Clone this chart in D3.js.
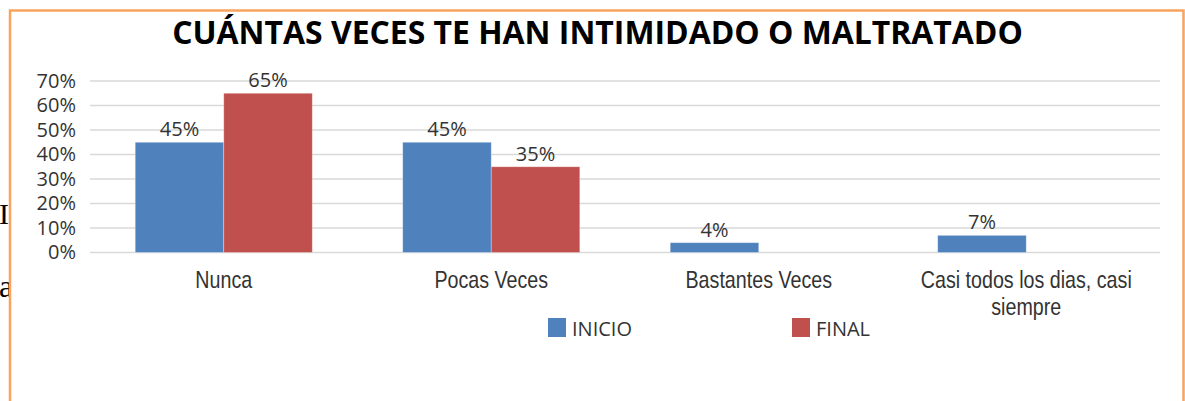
<!DOCTYPE html>
<html>
<head>
<meta charset="utf-8">
<script src="https://cdn.jsdelivr.net/npm/d3@7/dist/d3.min.js"></script>
<style>
  body { margin: 0; background: #fff; }
  svg { display: block; }
</style>
</head>
<body>
<div id="chart"></div>
<script>
// datos
var categories = ["Nunca", "Pocas Veces", "Bastantes Veces", "Casi todos los dias, casi siempre"];
var seriesNames = ["INICIO", "FINAL"];
var inicio = [0.45, 0.45, 0.04, 0.07];
var final = [0.65, 0.35, null, null];
var yTicks = [0, 0.1, 0.2, 0.3, 0.4, 0.5, 0.6, 0.7];
var colors = ["#4F81BD", "#C0504D"];
var title = "CUÁNTAS VECES TE HAN INTIMIDADO O MALTRATADO";

var width = 1185, height = 401;
var plot = { left: 90, right: 1160, top: 81, bottom: 252.5 };
var narrow = 0.82; // las etiquetas del eje x son estrechas

var svg = d3.select("#chart")
    .append("svg")
    .attr("width", width)
    .attr("height", height);

// restos del documento de fondo
svg.append("text")
    .attr("x", -1).attr("y", 224)
    .attr("font-family", "Liberation Serif")
    .attr("font-size", 30)
    .attr("fill", "#000")
    .text("I");
svg.append("text")
    .attr("x", -1).attr("y", 297)
    .attr("font-family", "Liberation Serif")
    .attr("font-size", 32)
    .attr("fill", "#000")
    .text("a");

// marco naranja
svg.append("rect")
    .attr("x", 10).attr("y", 10.5)
    .attr("width", 1173.5).attr("height", 430)
    .attr("fill", "#fff")
    .attr("stroke", "#F9A45E")
    .attr("stroke-width", 2.5);

var t = svg.append("text")
    .attr("x", 597.5).attr("y", 44)
    .attr("text-anchor", "middle")
    .attr("font-family", "Open Sans")
    .attr("font-weight", "bold")
    .attr("font-size", 29)
    .attr("fill", "#000")
    .text(title);
var tl = t.node().getComputedTextLength();
t.attr("font-size", 29 * 851 / tl);

var x0 = d3.scaleBand()
    .domain(categories)
    .range([plot.left, plot.right])
    .paddingInner(0.338)
    .paddingOuter(0.169);

var x1 = d3.scaleBand()
    .domain(seriesNames)
    .range([0, x0.bandwidth()]);

var y = d3.scaleLinear()
    .domain([0, 0.7])
    .range([plot.bottom, plot.top]);

var fmt = d3.format(".0%");

// lineas de cuadricula
svg.append("g")
    .selectAll("line")
    .data(yTicks)
    .enter()
    .append("line")
    .attr("x1", plot.left)
    .attr("x2", plot.right)
    .attr("y1", function(d) { return y(d); })
    .attr("y2", function(d) { return y(d); })
    .attr("stroke", "#d9d9d9")
    .attr("stroke-width", 1.5);

// eje y
var yAxis = svg.append("g")
    .attr("transform", "translate(" + 76 + ",0)")
    .call(d3.axisLeft(y).tickValues(yTicks).tickFormat(fmt).tickSize(0).tickPadding(0));
yAxis.select(".domain").remove();
yAxis.selectAll("text")
    .attr("font-family", "Open Sans")
    .attr("font-size", 20)
    .attr("fill", "#333");

var rows = categories.map(function(c, i) {
    return { cat: c, values: [inicio[i], final[i]] };
});

var groups = svg.selectAll(".grupo")
    .data(rows)
    .enter()
    .append("g")
    .attr("class", "grupo")
    .attr("transform", function(d) { return "translate(" + x0(d.cat) + ",0)"; });

var bars = groups.selectAll(".barra")
    .data(function(d) {
        return d.values.map(function(v, j) { return { s: seriesNames[j], v: v, j: j }; })
            .filter(function(e) { return e.v != null; });
    })
    .enter()
    .append("g")
    .attr("class", "barra");

bars.append("rect")
    .attr("x", function(d) { return x1(d.s); })
    .attr("y", function(d) { return y(d.v); })
    .attr("width", x1.bandwidth())
    .attr("height", function(d) { return y(0) - y(d.v); })
    .attr("fill", function(d) { return colors[d.j]; })
    .attr("stroke", "#fff")
    .attr("stroke-opacity", 0.4)
    .attr("stroke-width", 0.8);

bars.append("text")
    .attr("x", function(d) { return x1(d.s) + x1.bandwidth() / 2; })
    .attr("y", function(d) { return y(d.v) - 6; })
    .attr("text-anchor", "middle")
    .attr("font-family", "Open Sans")
    .attr("font-size", 20)
    .attr("fill", "#333")
    .text(function(d) { return fmt(d.v); });

// etiquetas de categoria
var xAxis = svg.append("g")
    .attr("transform", "translate(0," + plot.bottom + ")")
    .call(d3.axisBottom(x0).tickSize(0).tickPadding(0));
xAxis.select(".domain").remove();
xAxis.selectAll("text")
    .attr("y", 35.5)
    .attr("dy", 0)
    .attr("transform", "scale(" + narrow + ",1)")
    .attr("font-family", "Liberation Sans")
    .attr("font-size", 24)
    .attr("fill", "#333")
    .call(wrap, x0.step() / narrow);

function wrap(text, w) {
    text.each(function() {
        var txt = d3.select(this);
        var words = txt.text().split(/\s+/);
        var line = [];
        var lineNo = 0;
        var yy = txt.attr("y");
        var tspan = txt.text(null).append("tspan").attr("x", 0).attr("y", yy);
        words.forEach(function(word) {
            line.push(word);
            tspan.text(line.join(" "));
            if (tspan.node().getComputedTextLength() > w && line.length > 1) {
                line.pop();
                tspan.text(line.join(" "));
                line = [word];
                lineNo++;
                tspan = txt.append("tspan").attr("x", 0).attr("y", +yy + lineNo * 27).text(word);
            }
        });
    });
}

// leyenda
var legendX = [548, 792];
var legend = svg.selectAll(".leyenda")
    .data(seriesNames)
    .enter()
    .append("g")
    .attr("class", "leyenda")
    .attr("transform", function(d, i) { return "translate(" + legendX[i] + ",318)"; });
legend.append("rect")
    .attr("width", 18).attr("height", 19)
    .attr("fill", function(d, i) { return colors[i]; });
legend.append("text")
    .attr("x", 24).attr("y", 17.5)
    .attr("font-family", "Open Sans")
    .attr("font-size", 20)
    .attr("fill", "#333")
    .text(function(d) { return d; });
</script>
</body>
</html>
